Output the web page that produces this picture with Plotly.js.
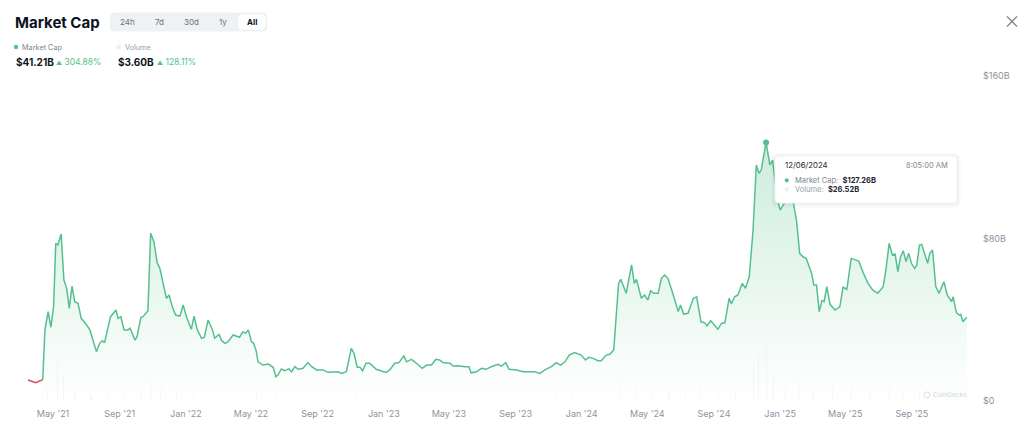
<!DOCTYPE html>
<html><head><meta charset="utf-8">
<script src="https://cdn.plot.ly/plotly-3.0.1.min.js"></script>
<style>html,body{margin:0;padding:0;background:#fff;} #chart{width:1024px;height:426px;}</style>
</head><body><div id="chart"></div>
<script>
// ---------- DATA ----------
const mcDates = ['2021-03-16','2021-03-30','2021-04-10','2021-04-12','2021-04-16','2021-04-22','2021-04-27','2021-05-02','2021-05-06','2021-05-10','2021-05-16','2021-05-21','2021-05-26','2021-05-31','2021-06-05','2021-06-10','2021-06-16','2021-06-22','2021-07-02','2021-07-08','2021-07-20','2021-07-26','2021-07-31','2021-08-04','2021-08-15','2021-08-25','2021-08-29','2021-09-03','2021-09-09','2021-09-16','2021-09-20','2021-09-29','2021-10-03','2021-10-10','2021-10-14','2021-10-23','2021-10-28','2021-11-03','2021-11-09','2021-11-14','2021-11-20','2021-11-26','2021-12-01','2021-12-07','2021-12-13','2021-12-21','2021-12-27','2022-01-02','2022-01-11','2022-01-16','2022-01-22','2022-01-30','2022-02-04','2022-02-11','2022-02-19','2022-02-23','2022-03-03','2022-03-08','2022-03-14','2022-03-20','2022-03-29','2022-04-10','2022-04-16','2022-04-21','2022-04-26','2022-05-02','2022-05-06','2022-05-11','2022-05-14','2022-05-23','2022-06-02','2022-06-11','2022-06-16','2022-06-20','2022-06-26','2022-07-02','2022-07-10','2022-07-15','2022-07-21','2022-07-27','2022-08-05','2022-08-14','2022-08-21','2022-08-30','2022-09-11','2022-09-20','2022-10-09','2022-10-15','2022-10-24','2022-11-02','2022-11-07','2022-11-13','2022-11-18','2022-11-23','2022-11-29','2022-12-06','2022-12-18','2022-12-28','2023-01-05','2023-01-12','2023-01-21','2023-01-29','2023-02-07','2023-02-12','2023-02-21','2023-03-02','2023-03-13','2023-03-21','2023-03-30','2023-04-07','2023-04-14','2023-04-20','2023-05-03','2023-05-09','2023-05-18','2023-05-30','2023-06-07','2023-06-11','2023-06-21','2023-06-30','2023-07-09','2023-07-18','2023-07-31','2023-08-06','2023-08-14','2023-08-20','2023-09-03','2023-09-15','2023-09-27','2023-10-06','2023-10-16','2023-10-25','2023-11-06','2023-11-15','2023-11-23','2023-12-01','2023-12-09','2023-12-19','2023-12-31','2024-01-08','2024-01-14','2024-01-22','2024-01-31','2024-02-06','2024-02-15','2024-02-22','2024-02-29','2024-03-09','2024-03-13','2024-03-23','2024-04-02','2024-04-07','2024-04-11','2024-04-20','2024-04-26','2024-05-02','2024-05-07','2024-05-13','2024-05-21','2024-05-27','2024-06-02','2024-06-08','2024-06-16','2024-06-27','2024-07-01','2024-07-07','2024-07-15','2024-07-25','2024-07-31','2024-08-08','2024-08-15','2024-08-19','2024-08-26','2024-09-01','2024-09-08','2024-09-15','2024-09-21','2024-09-29','2024-10-03','2024-10-09','2024-10-15','2024-10-23','2024-10-29','2024-11-05','2024-11-12','2024-11-18','2024-11-23','2024-11-27','2024-12-02','2024-12-06','2024-12-13','2024-12-18','2024-12-26','2025-01-01','2025-01-12','2025-01-25','2025-01-31','2025-02-06','2025-02-12','2025-02-18','2025-02-28','2025-03-04','2025-03-09','2025-03-14','2025-03-19','2025-03-23','2025-03-28','2025-04-03','2025-04-12','2025-04-21','2025-04-27','2025-05-04','2025-05-12','2025-05-20','2025-05-26','2025-06-03','2025-06-12','2025-06-21','2025-06-30','2025-07-10','2025-07-15','2025-07-21','2025-07-27','2025-08-01','2025-08-06','2025-08-11','2025-08-16','2025-08-21','2025-08-26','2025-08-31','2025-09-06','2025-09-10','2025-09-15','2025-09-19','2025-09-25','2025-09-30','2025-10-04','2025-10-09','2025-10-15','2025-10-21','2025-10-30','2025-11-05','2025-11-13','2025-11-16','2025-11-22','2025-11-27','2025-11-30','2025-12-04','2025-12-11'];
const mcValues = [10.3,9.0,10.3,10.7,35.0,44.0,36.3,46.4,77.6,76.8,82.2,59.6,55.5,45.6,56.6,48.9,48.1,40.7,37.4,35.0,24.3,28.4,29.7,28.7,41.5,44.8,40.7,41.5,35.0,35.0,35.8,30.0,31.7,41.2,41.5,44.5,82.6,78.4,68.1,65.3,57.9,50.6,52.2,46.4,42.3,41.8,47.3,41.5,35.3,41.8,35.0,30.9,31.4,39.9,35.0,30.9,32.8,29.7,28.4,29.2,32.5,31.4,34.1,33.3,35.0,29.2,28.4,24.3,19.3,17.7,18.2,16.6,12.0,12.8,15.8,14.9,15.8,14.4,16.9,15.6,16.1,18.9,16.9,15.3,15.3,14.1,14.4,13.6,14.4,25.9,23.5,16.6,16.6,14.9,18.6,18.6,15.6,14.9,14.1,15.3,18.6,18.9,22.2,19.3,20.5,18.6,16.1,17.7,17.7,20.5,20.2,18.9,18.6,17.2,17.4,16.9,16.9,13.9,14.4,16.1,15.6,16.9,18.1,17.2,18.9,15.6,15.3,14.4,14.4,14.4,13.6,15.3,16.9,18.9,17.7,19.3,22.6,23.8,22.6,20.2,21.5,21.0,19.8,19.8,22.6,23.0,25.1,57.9,59.9,53.0,67.0,57.9,59.9,50.6,52.2,49.7,54.3,53.0,53.0,60.4,62.0,60.4,53.8,44.0,47.3,42.8,43.2,50.6,51.3,39.0,38.5,36.9,39.5,37.8,35.3,38.3,38.5,50.6,47.8,51.3,52.2,57.9,55.5,61.2,84.2,116.2,112.1,113.7,121.1,127.26,116.2,118.6,100.6,94.0,98.9,98.1,89.1,72.7,71.0,70.2,62.9,57.1,57.1,44.0,49.4,48.9,56.3,47.6,44.8,46.4,56.0,55.0,70.2,69.4,68.9,63.2,57.9,54.6,53.0,56.3,64.5,77.6,71.9,72.4,63.7,71.0,74.0,68.6,72.7,67.8,65.3,67.0,76.8,77.1,71.9,67.8,72.7,74.3,56.3,53.0,58.7,52.2,48.9,51.3,43.5,42.3,42.7,39.0,41.21];

const volDates = ['2021-03-20','2021-04-20','2021-05-10','2021-05-20','2021-06-10','2021-07-10','2021-08-10','2021-09-10','2021-10-10','2021-10-28','2021-11-15','2021-12-15','2022-01-15','2022-02-15','2022-03-15','2022-04-15','2022-05-12','2022-06-15','2022-07-15','2022-08-15','2022-09-15','2022-10-15','2022-11-09','2022-12-15','2023-01-15','2023-02-15','2023-03-15','2023-04-15','2023-05-15','2023-06-15','2023-07-15','2023-08-15','2023-09-15','2023-10-15','2023-11-15','2023-12-15','2024-01-15','2024-02-15','2024-03-10','2024-04-10','2024-05-10','2024-06-10','2024-07-10','2024-08-05','2024-09-10','2024-10-10','2024-11-12','2024-11-22','2024-12-06','2024-12-20','2025-01-10','2025-02-03','2025-03-04','2025-04-07','2025-05-12','2025-06-15','2025-07-21','2025-08-15','2025-09-15','2025-10-10','2025-11-05','2025-12-11'];
const volValues = [1.0,6,18,12,5,3,4,4,6,10,6,4,3,2.5,2,2,4,2,1.5,1.5,1.2,1,3,1,1.5,1.5,1.8,1.5,1,1.2,1,1,0.8,1,2,3,2.5,2.5,10,6,4,4,3,6,3,4,18,22,26.52,12,8,10,6,7,8,4,7,5,5,7,4,3.60];

const yTickVals = [0, 80, 160];
const yTickText = ['$0', '$80B', '$160B'];
const rangeButtons = ['24h', '7d', '30d', '1y', 'All'];
const seriesNames = ['Market Cap', 'Volume'];
const currentValues = ['$41.21B', '$3.60B'];
const changeTexts = ['304.88%', '128.11%'];
const tooltipDate = '12/06/2024';
const tooltipTime = '8:05:00 AM';
const tooltipIso = '2024-12-06';

// ---------- HELPERS ----------
const L = 14, T = 76, W = 963, H = 325;
const px = x => (x - L) / W;
const py = y => (T + H - y) / H;
const GREEN = '#55c08e', RED = '#e2485d';
const F = 'Inter, Roboto, sans-serif';

function rr(x0, y0, x1, y1, r) {
  const P = (x, y) => px(x) + ',' + py(y);
  return 'M' + P(x0 + r, y0) + ' L' + P(x1 - r, y0) + ' Q' + P(x1, y0) + ' ' + P(x1, y0 + r) +
    ' L' + P(x1, y1 - r) + ' Q' + P(x1, y1) + ' ' + P(x1 - r, y1) +
    ' L' + P(x0 + r, y1) + ' Q' + P(x0, y1) + ' ' + P(x0, y1 - r) +
    ' L' + P(x0, y0 + r) + ' Q' + P(x0, y0) + ' ' + P(x0 + r, y0) + ' Z';
}
function circ(cx, cy, r, fill, line) {
  return {type: 'circle', xref: 'paper', yref: 'paper', x0: px(cx - r), x1: px(cx + r), y0: py(cy + r), y1: py(cy - r),
    fillcolor: fill, line: {color: line || fill, width: line ? 1 : 0}};
}
function ann(text, x, y, size, color, xanchor) {
  return {text: text, x: px(x), y: py(y), xref: 'paper', yref: 'paper', showarrow: false, borderpad: 0,
    xanchor: xanchor || 'left', yanchor: 'middle', font: {size: size, color: color, family: F}};
}
const up = (txt) => '<span style="font-size:6px">▲</span> ' + txt;

// segment below starting value drawn red
let redEnd = 1;
while (redEnd < mcValues.length && mcValues[redEnd] <= mcValues[0]) redEnd++;
const peakIdx = mcDates.indexOf(tooltipIso);
const volIdx = volDates.indexOf(tooltipIso);

const traces = [
  {type: 'bar', x: volDates, y: volValues, width: 2 * 86400000, marker: {color: 'rgba(150,150,150,0.08)', line: {width: 0}}, hoverinfo: 'skip'},
  {type: 'scatter', mode: 'lines', x: mcDates.slice(0, redEnd + 1), y: mcValues.slice(0, redEnd + 1), line: {color: RED, width: 1.5}, hoverinfo: 'skip'},
  {type: 'scatter', mode: 'lines', x: mcDates.slice(redEnd - 1), y: mcValues.slice(redEnd - 1), line: {color: GREEN, width: 1.5},
    fill: 'tozeroy', fillgradient: {type: 'vertical', start: 0, stop: 130, colorscale: [[0, 'rgba(85,192,142,0.0)'], [1, 'rgba(85,192,142,0.30)']]}, hoverinfo: 'skip'},
  {type: 'scatter', mode: 'markers', x: [mcDates[peakIdx]], y: [mcValues[peakIdx]], marker: {color: GREEN, size: 6}, hoverinfo: 'skip'}
];

const shapes = [
  {type: 'path', xref: 'paper', yref: 'paper', path: rr(110, 12.5, 267, 31.5, 4), fillcolor: '#eff2f5', line: {width: 0}},
  {type: 'path', xref: 'paper', yref: 'paper', path: rr(238.5, 14.5, 265.5, 29.5, 3.5), fillcolor: '#ffffff', line: {width: 0}},
  circ(16, 47, 2.2, GREEN),
  circ(118.5, 47, 2.2, '#eceef1'),
  {type: 'line', xref: 'paper', yref: 'paper', x0: px(1007), y0: py(16.5), x1: px(1017), y1: py(26.5), line: {color: '#7c828a', width: 1.3}},
  {type: 'line', xref: 'paper', yref: 'paper', x0: px(1007), y0: py(26.5), x1: px(1017), y1: py(16.5), line: {color: '#7c828a', width: 1.3}},
  // tooltip shadow and box
  {type: 'path', xref: 'paper', yref: 'paper', path: rr(771, 153, 961, 208, 6), fillcolor: 'rgba(0,0,0,0.02)', line: {width: 0}},
  {type: 'path', xref: 'paper', yref: 'paper', path: rr(773, 154.5, 959, 205.5, 5), fillcolor: 'rgba(0,0,0,0.03)', line: {width: 0}},
  {type: 'path', xref: 'paper', yref: 'paper', path: rr(775, 156, 957, 203, 4), fillcolor: '#ffffff', line: {color: '#f1f2f4', width: 1}},
  circ(786.7, 180.3, 2.1, GREEN),
  circ(786.7, 189.3, 2.1, '#eceef1'),
  // watermark logo
  circ(927, 395, 3, 'rgba(0,0,0,0)', '#d9dce0')
];

const annotations = [
  ann('<b>Market Cap</b>', 13.5, 22, 15, '#0d1421'),
  ann(seriesNames[0], 21, 47, 7.3, '#7d8590'),
  ann(seriesNames[1], 124, 47, 7.3, '#9aa0a8'),
  ann('<b>' + currentValues[0] + '</b>', 14.5, 62, 10, '#0d1421'),
  ann(up(changeTexts[0]), 54.5, 62, 8.5, GREEN),
  ann('<b>' + currentValues[1] + '</b>', 117, 62, 10, '#0d1421'),
  ann(up(changeTexts[1]), 155.5, 62, 8.5, GREEN),
  ann(tooltipDate, 784, 165, 7.8, '#1f2733'),
  ann(tooltipTime, 948.5, 165, 7.5, '#7d8590', 'right'),
  ann('<span style="color:#7d8590">' + seriesNames[0] + ':</span>&nbsp; <b>$' + mcValues[peakIdx].toFixed(2) + 'B</b>', 793.5, 180.3, 7.5, '#1f2733'),
  ann('<span style="color:#9aa0a8">' + seriesNames[1] + ':</span>&nbsp; <b>$' + volValues[volIdx].toFixed(2) + 'B</b>', 793.5, 189.3, 7.5, '#1f2733'),
  ann('CoinGecko', 932, 395, 6.5, '#d3d7dc')
];
const btnX = [127.7, 159.3, 191, 222.7, 252];
rangeButtons.forEach((b, i) => {
  const last = i === rangeButtons.length - 1;
  annotations.push(ann(last ? '<b>' + b + '</b>' : b, btnX[i], 22, 8, last ? '#0d1421' : '#6a717b', 'center'));
});

const layout = {
  width: 1024, height: 426,
  margin: {l: L, r: 1024 - L - W, t: T, b: 426 - T - H, pad: 0},
  paper_bgcolor: '#ffffff', plot_bgcolor: '#ffffff',
  showlegend: false, hovermode: false, bargap: 0,
  font: {family: F},
  xaxis: {type: 'date', range: ['2021-02-18', '2025-12-30'], tick0: '2021-05-01', dtick: 'M4', tickformat: "%b '%y",
    showgrid: false, zeroline: false, showline: false, ticks: '', ticklabelstandoff: 6,
    tickfont: {size: 9, color: '#8d949e', family: F}, fixedrange: true},
  yaxis: {side: 'right', range: [0, 160], tickvals: yTickVals, ticktext: yTickText, showgrid: false, zeroline: false, showline: false,
    ticks: '', ticklabelstandoff: 5, tickfont: {size: 9, color: '#8d949e', family: F}, fixedrange: true},
  shapes: shapes,
  annotations: annotations
};

Plotly.newPlot('chart', traces, layout, {displayModeBar: false, staticPlot: true});
</script>
</body></html>
